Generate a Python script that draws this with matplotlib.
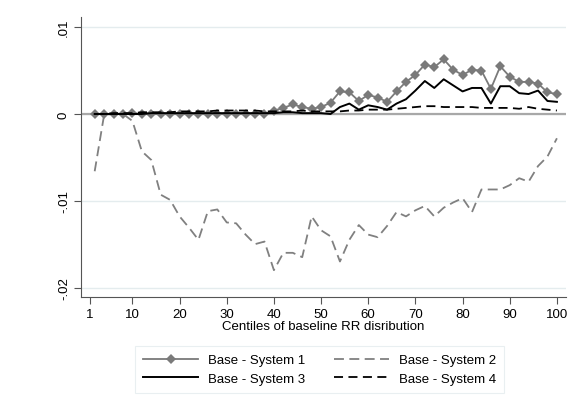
import numpy as np
import matplotlib
matplotlib.use("Agg")
import matplotlib.pyplot as plt

plt.rcParams['font.family'] = ['Liberation Sans', 'DejaVu Sans']

# centiles of baseline RR distribution (every second one)
centiles = np.arange(2, 101, 2)

sys1 = [0, 0, 0, 0, 0.0001, 0, 0, 0, 0, 0,
        0, 0, 0, 0, 0, 0, 0, 0, 0, 0.0004,
        0.0007, 0.0011, 0.0008, 0.0006, 0.0008, 0.0013, 0.0026, 0.0025, 0.0015, 0.0022,
        0.0019, 0.0014, 0.0026, 0.0037, 0.0045, 0.0057, 0.0054, 0.0063, 0.0051, 0.0045,
        0.0051, 0.0050, 0.0029, 0.0055, 0.0043, 0.0037, 0.0037, 0.0035, 0.0025, 0.0023]

sys2 = [-0.0066, -0.0001, 0, 0, -0.0008, -0.0043, -0.0053, -0.0093, -0.0099, -0.0118,
        -0.0131, -0.0145, -0.0112, -0.0110, -0.0125, -0.0126, -0.0139, -0.0150, -0.0147, -0.0180,
        -0.0160, -0.0160, -0.0165, -0.0118, -0.0134, -0.0141, -0.0170, -0.0145, -0.0128, -0.0139,
        -0.0142, -0.0129, -0.0113, -0.0118, -0.0111, -0.0106, -0.0118, -0.0108, -0.0102, -0.0097,
        -0.0113, -0.0087, -0.0087, -0.0087, -0.0082, -0.0074, -0.0078, -0.0060, -0.0049, -0.0028]

sys3 = [0, 0, 0, 0, 0, 0, 0.0001, 0.0001, 0.0001, 0.0001,
        0.0001, 0.0001, 0.0001, 0.0001, 0.0001, 0.0001, 0.0001, 0.0001, 0.0001, 0.0001,
        0.0002, 0.0002, 0.0001, 0.0001, 0.0001, 0, 0.0008, 0.0012, 0.0005, 0.0010,
        0.0008, 0.0005, 0.0012, 0.0017, 0.0027, 0.0038, 0.0030, 0.0040, 0.0033, 0.0026,
        0.0030, 0.0030, 0.0012, 0.0032, 0.0032, 0.0024, 0.0023, 0.0027, 0.0015, 0.0014]

sys4 = [0, 0, 0.0001, 0.0001, 0.0001, 0.0002, 0.0002, 0.0002, 0.0002, 0.0003,
        0.0003, 0.0003, 0.0003, 0.0004, 0.0004, 0.0004, 0.0004, 0.0004, 0.0003, 0.0003,
        0.0003, 0.0003, 0.0004, 0.0003, 0.0003, 0.0003, 0.0003, 0.0004, 0.0004, 0.0005,
        0.0005, 0.0005, 0.0006, 0.0007, 0.0008, 0.0009, 0.0009, 0.0008, 0.0008, 0.0008,
        0.0008, 0.0007, 0.0007, 0.0007, 0.0007, 0.0006, 0.0008, 0.0006, 0.0005, 0.0004]

labels = ['Base - System 1', 'Base - System 2', 'Base - System 3', 'Base - System 4']
xticks = [1, 10, 20, 30, 40, 50, 60, 70, 80, 90, 100]
yticks = [-0.02, -0.01, 0, 0.01]
ytick_labels = ['-.02', '-.01', '0', '.01']

fig = plt.figure(figsize=(5.87, 4.14), dpi=100)
ax = fig.add_axes([0.138, 0.280, 0.826, 0.677])

# grid + zero line
for yv in yticks:
    ax.axhline(yv, color='#e4ecee', lw=1.0, zorder=0)
ax.axhline(0, color='#a8a8a8', lw=1.6, zorder=1)

l1, = ax.plot(centiles, sys1, color='#7a7a7a', lw=1.3, marker='D', markersize=4.8,
              markeredgewidth=0, label=labels[0], zorder=3)
l2, = ax.plot(centiles, sys2, color='#808080', lw=1.3, ls=(0, (5.5, 3)), label=labels[1], zorder=3)
l3, = ax.plot(centiles, sys3, color='black', lw=1.4, label=labels[2], zorder=4)
l4, = ax.plot(centiles, sys4, color='black', lw=1.3, ls=(0, (5, 3)), label=labels[3], zorder=4)

ax.set_xlim(-0.9, 101.9)
ax.set_ylim(-0.0211, 0.0112)
ax.set_xticks(xticks)
ax.set_yticks(yticks)
ax.set_yticklabels(ytick_labels, rotation=90, va='center')
ax.tick_params(axis='both', labelsize=9.5, color='#555555', length=5, width=0.8, pad=3)
ax.set_xlabel('Centiles of baseline RR disribution', fontsize=9.5, labelpad=0)

for s in ['top', 'right']:
    ax.spines[s].set_visible(False)
for s in ['left', 'bottom']:
    ax.spines[s].set_color('#555555')
    ax.spines[s].set_linewidth(0.8)

# row-major order: matplotlib fills legend columns first
leg = fig.legend(handles=[l1, l3, l2, l4], ncol=2, loc='center',
                 bbox_to_anchor=(0.544, 0.105), fontsize=9.5, frameon=True,
                 fancybox=False, edgecolor='#e4ecee', handlelength=4.2,
                 columnspacing=2.2, handletextpad=0.7, borderpad=0.6,
                 labelspacing=0.5)
leg.get_frame().set_linewidth(0.8)

fig.savefig('out.png', dpi=100)
